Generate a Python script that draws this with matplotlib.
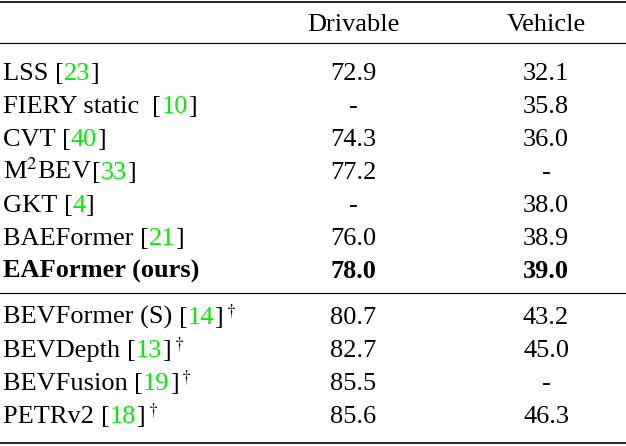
import matplotlib
matplotlib.use("Agg")
import matplotlib.pyplot as plt

plt.rcParams['font.family'] = ['Liberation Serif', 'DejaVu Serif']
plt.rcParams['mathtext.fontset'] = 'stix'

methods = ["LSS", "FIERY static ", "CVT", "M$^2$BEV", "GKT", "BAEFormer", "EAFormer (ours)",
           "BEVFormer (S)", "BEVDepth", "BEVFusion", "PETRv2"]
cites = ["23", "10", "40", "33", "4", "21", "", "14", "13", "19", "18"]
dagger = [False]*7 + [True]*4
drivable = ["72.9", "-", "74.3", "77.2", "-", "76.0", "78.0", "80.7", "82.7", "85.5", "85.6"]
vehicle = ["32.1", "35.8", "36.0", "-", "38.0", "38.9", "39.0", "43.2", "45.0", "-", "46.3"]
headers = ["Drivable", "Vehicle"]

W, H = 626, 446
fig = plt.figure(figsize=(W/100, H/100), dpi=100)
ax = fig.add_axes([0, 0, 1, 1])
ax.set_xlim(0, W); ax.set_ylim(H, 0); ax.axis('off')
fig.canvas.draw()
r = fig.canvas.get_renderer()
fs = 19
green = '#00ee00'

def seq(x, y, parts):
    for txt, col, w in parts:
        t = ax.text(x, y, txt, color=col, fontsize=fs, weight=w, va='baseline', ha='left')
        bb = t.get_window_extent(r)
        x += bb.width

colx = [353, 546]
ax.text(colx[0], 31, headers[0], fontsize=fs, ha='center', va='baseline')
ax.text(colx[1], 31, headers[1], fontsize=fs, ha='center', va='baseline')
ys = [80, 113, 146, 179, 212, 245, 278, 324, 357, 390, 423]
for i, m in enumerate(methods):
    y = ys[i]
    w = 'bold' if i == 6 else 'normal'
    parts = [(m + (" " if cites[i] else ""), 'black', w)]
    if cites[i]:
        parts += [("[", 'black', w), (cites[i], green, w), ("]", 'black', w)]
    if dagger[i]:
        parts += [("$^\\dagger$", 'black', w)]
    seq(3, y, parts)
    ax.text(colx[0], y, drivable[i], fontsize=fs, ha='center', va='baseline', weight=w)
    ax.text(colx[1], y, vehicle[i], fontsize=fs, ha='center', va='baseline', weight=w)

for yy, lw in [(2, 1.2), (43, 0.8), (293, 0.8), (443, 1.2)]:
    ax.plot([0, W], [yy, yy], color='black', lw=lw)
fig.savefig('out.png', dpi=100)
